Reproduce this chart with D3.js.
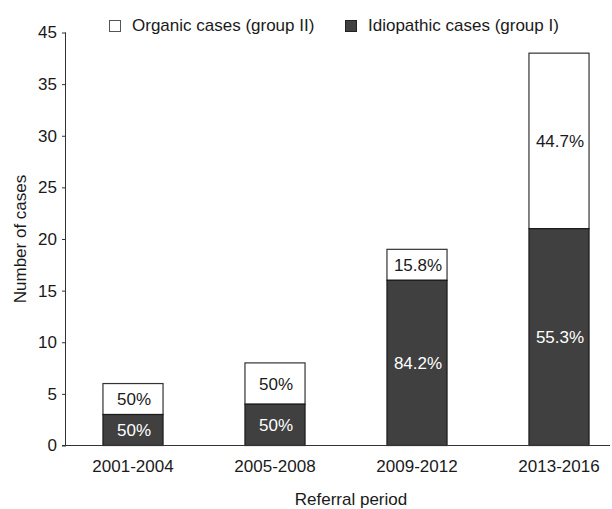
<!DOCTYPE html>
<html>
<head>
<meta charset="utf-8">
<script src="https://cdn.jsdelivr.net/npm/d3@7"></script>
<style>
  body { margin: 0; background: #fff; }
  svg text { font-family: Arial, "Liberation Sans", sans-serif; fill: #1a1a1a; }
</style>
</head>
<body>
<svg id="chart" width="612" height="509"></svg>
<script>
// chart data
var periods = ["2001-2004", "2005-2008", "2009-2012", "2013-2016"];
var idiopathic = [3, 4, 16, 21];
var organic = [3, 4, 3, 17];
var idiopathicPct = ["50%", "50%", "84.2%", "55.3%"];
var organicPct = ["50%", "50%", "15.8%", "44.7%"];
var yTickValues = [0, 5, 10, 15, 20, 25, 30, 35, 40];
var yTickLabels = ["0", "5", "10", "15", "20", "25", "30", "35", "45"]; // top label reads 45 in the original
var legendLabels = ["Organic cases (group II)", "Idiopathic cases (group I)"];

var svg = d3.select("#chart");
var axisX = 66, baseY = 445.5, topY = 32.5;

var x = d3.scaleBand().domain(periods).range([62, 630]).paddingInner(0.577).paddingOuter(0.2885);
var y = d3.scaleLinear().domain([0, 40]).range([baseY, topY]);

var stack = periods.map(function(p, i){
	return {period: p, idio: idiopathic[i], org: organic[i], idioPct: idiopathicPct[i], orgPct: organicPct[i]};
});

// bars: idiopathic at the bottom, organic on top
var g = svg.append("g");
g.selectAll("rect.org").data(stack).enter().append("rect")
	.attr("class", "org")
	.attr("x", function(d){ return x(d.period); })
	.attr("width", x.bandwidth())
	.attr("y", function(d){ return y(d.idio + d.org); })
	.attr("height", function(d){ return y(d.idio) - y(d.idio + d.org); })
	.attr("fill", "#fff").attr("stroke", "#333").attr("stroke-width", 1.2);

g.selectAll("rect.idio").data(stack).enter().append("rect")
	.attr("class", "idio")
	.attr("x", function(d){ return x(d.period); })
	.attr("width", x.bandwidth())
	.attr("y", function(d){ return y(d.idio); })
	.attr("height", function(d){ return y(0) - y(d.idio); })
	.attr("fill", "#404040").attr("stroke", "#1a1a1a").attr("stroke-width", 1.2);

// percentage labels
g.selectAll("text.orgPct").data(stack).enter().append("text")
	.attr("x", function(d){ return x(d.period) + x.bandwidth() / 2 + 1; })
	.attr("y", function(d){ return y(d.idio + d.org / 2) + 6; })
	.attr("text-anchor", "middle")
	.style("font-size", "17px")
	.text(function(d){ return d.orgPct; });

g.selectAll("text.idioPct").data(stack).enter().append("text")
	.attr("x", function(d){ return x(d.period) + x.bandwidth() / 2 + 1; })
	.attr("y", function(d){ return y(d.idio / 2) + 6; })
	.attr("text-anchor", "middle")
	.style("font-size", "17px")
	.style("fill", "#fff")
	.text(function(d){ return d.idioPct; });

// y axis
var yAxis = d3.axisLeft(y).tickValues(yTickValues).tickSize(4).tickPadding(5)
	.tickFormat(function(d, i){ return yTickLabels[i]; });
var ya = svg.append("g").attr("transform", "translate(" + axisX + ",0)").call(yAxis);
ya.select(".domain").attr("stroke", "#333").attr("d", "M-0.5," + topY + "V" + baseY);
ya.selectAll(".tick line").attr("stroke", "#333");
ya.selectAll(".tick text").style("font-size", "17px").attr("fill", "#1a1a1a")
	.style("font-family", "Arial, 'Liberation Sans', sans-serif");

// x axis: a plain baseline with category labels, no tick marks
var xAxis = d3.axisBottom(x).tickSize(0).tickPadding(14);
var xa = svg.append("g").attr("transform", "translate(0," + baseY + ")").call(xAxis);
xa.select(".domain").attr("stroke", "#333").attr("d", "M" + (axisX - 4) + ",0H610");
xa.selectAll(".tick text").style("font-size", "17px").attr("fill", "#1a1a1a")
	.style("font-family", "Arial, 'Liberation Sans', sans-serif");

// axis titles
svg.append("text")
	.attr("transform", "translate(26," + ((topY + baseY) / 2) + ") rotate(-90)")
	.attr("text-anchor", "middle")
	.style("font-size", "17px")
	.text("Number of cases");

svg.append("text")
	.attr("x", 351).attr("y", 505)
	.attr("text-anchor", "middle")
	.style("font-size", "17px")
	.text("Referral period");

// legend
var legendX = [109, 345];
var legendFill = ["#fff", "#404040"];
var lg = svg.selectAll("g.legend").data(legendLabels).enter().append("g")
	.attr("class", "legend")
	.attr("transform", function(d, i){ return "translate(" + legendX[i] + ",0)"; });
lg.append("rect")
	.attr("x", 0.5).attr("y", 20.5).attr("width", 11).attr("height", 11)
	.attr("fill", function(d, i){ return legendFill[i]; })
	.attr("stroke", function(d, i){ return i === 0 ? "#555" : "#222"; });
lg.append("text")
	.attr("x", 23).attr("y", 31)
	.style("font-size", "17px")
	.text(function(d){ return d; });
</script>
</body>
</html>
